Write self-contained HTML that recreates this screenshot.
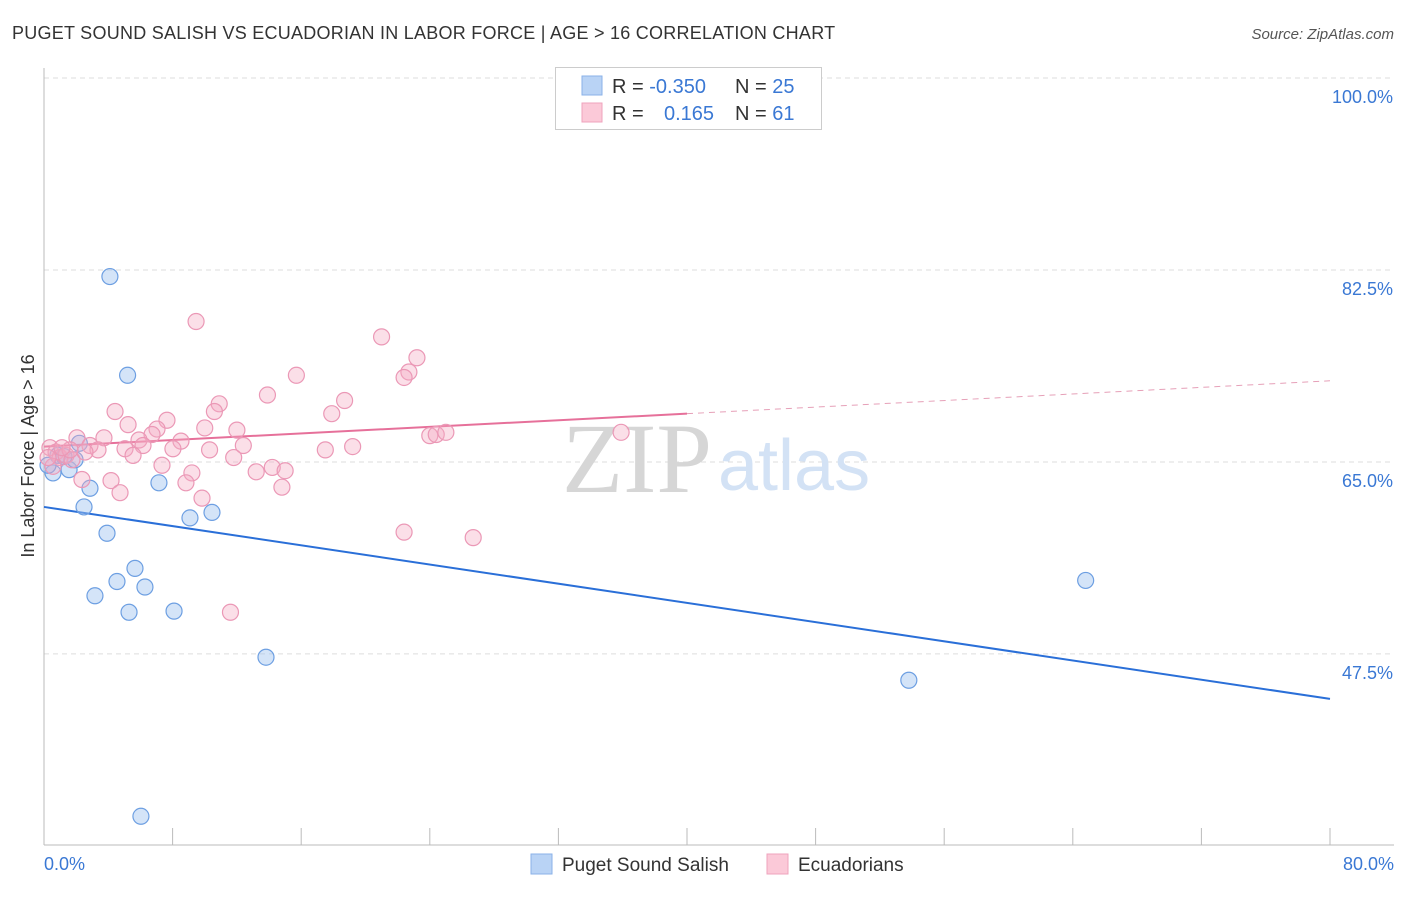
<!DOCTYPE html>
<html><head><meta charset="utf-8">
<style>
body{margin:0;background:#fff;font-family:"Liberation Sans",sans-serif;}
</style></head>
<body>
<svg id="chart" width="1406" height="892" viewBox="0 0 1406 892" xmlns="http://www.w3.org/2000/svg" font-family="Liberation Sans, sans-serif">
<text x="12" y="39" font-size="18" fill="#333" letter-spacing="0.25">PUGET SOUND SALISH VS ECUADORIAN IN LABOR FORCE | AGE &gt; 16 CORRELATION CHART</text>
<text x="1394" y="39" font-size="15" fill="#555" font-style="italic" text-anchor="end">Source: ZipAtlas.com</text>
<g id="grid"></g>
<text x="712" y="492" font-size="100" fill="#d6d6d6" style="font-family:'Liberation Serif',serif" text-anchor="end">ZIP</text>
<text x="718" y="490" font-size="72" fill="#d3e2f5">atlas</text>
<g id="axes"></g>
<g id="trends"></g>
<g id="points"></g>
<text x="34" y="456" font-size="18" fill="#333" text-anchor="middle" transform="rotate(-90 34 456)">In Labor Force | Age &gt; 16</text>
<g>
<rect x="555.5" y="67.5" width="266" height="62" fill="#fff" stroke="#ccc"/>
<rect x="582" y="76" width="20" height="19" fill="#b9d3f5" stroke="#8ab2e8"/>
<rect x="582" y="103" width="20" height="19" fill="#fbc9d8" stroke="#efa3bd"/>
<text x="612" y="93" font-size="20" fill="#333">R = <tspan fill="#3a78d4">-0.350</tspan></text>
<text x="735" y="93" font-size="20" fill="#333">N = <tspan fill="#3a78d4">25</tspan></text>
<text x="612" y="120" font-size="20" fill="#333">R = </text>
<text x="664" y="120" font-size="20" fill="#3a78d4">0.165</text>
<text x="735" y="120" font-size="20" fill="#333">N = <tspan fill="#3a78d4">61</tspan></text>
</g>
<g>
<rect x="531" y="854" width="21" height="20" fill="#b9d3f5" stroke="#8ab2e8"/>
<text x="562" y="871" font-size="19" fill="#333">Puget Sound Salish</text>
<rect x="767" y="854" width="21" height="20" fill="#fbc9d8" stroke="#efa3bd"/>
<text x="798" y="871" font-size="19" fill="#333">Ecuadorians</text>
</g>
</svg>
<script>
const yTicks=[100,82.5,65,47.5];
const yTickLabels=["100.0%","82.5%","65.0%","47.5%"];
const xLabels=["0.0%","80.0%"];
const blueX=[4.1,5.2,2.2,0.56,1.56,1.93,0.87,2.86,2.49,3.92,7.15,9.08,10.45,5.66,4.54,6.28,3.17,5.29,8.09,13.81,6.03,53.8,64.8,1.24,0.25];
const blueY=[81.9,72.9,66.7,64.0,64.3,65.2,65.6,62.6,60.9,58.5,63.1,59.9,60.4,55.3,54.1,53.6,52.8,51.3,51.4,47.2,32.7,45.1,54.2,65.5,64.7];
const pinkX=[9.46,21.0,23.2,22.7,22.4,15.7,13.9,18.7,10.9,10.6,17.9,4.42,7.65,5.23,7.03,6.72,10.0,12.0,8.52,5.91,6.16,3.73,2.05,2.86,3.36,5.04,5.54,8.02,10.3,12.4,11.8,17.5,19.2,24.0,24.4,25.0,35.9,7.34,9.2,13.2,14.2,15.0,14.8,8.83,4.17,4.73,9.83,2.36,22.4,26.7,11.6,0.37,0.75,1.0,1.37,1.74,0.56,2.55,1.62,1.12,0.25];
const pinkY=[77.8,76.4,74.5,73.2,72.7,72.9,71.1,70.6,70.3,69.6,69.4,69.6,68.8,68.4,68.0,67.5,68.1,67.9,66.9,67.0,66.5,67.2,67.2,66.5,66.1,66.2,65.6,66.2,66.1,66.5,65.4,66.1,66.4,67.4,67.5,67.7,67.7,64.7,64.0,64.1,64.5,64.2,62.7,63.1,63.3,62.2,61.7,63.4,58.6,58.1,51.3,66.3,65.9,65.4,65.6,65.2,64.6,65.9,66.1,66.3,65.4];
const blueTrend=[60.9,43.4];
const pinkTrend=[66.4,72.4];
const pinkSolidEnd=40;

const X0=44,X1=1330,Y100=78,PXPERPCT=10.97;
function sx(v){return X0+(X1-X0)*v/80;}
function sy(v){return Y100+(100-v)*PXPERPCT;}
const NS="http://www.w3.org/2000/svg";
function mk(tag,attrs,parent){const e=document.createElementNS(NS,tag);for(const k in attrs)e.setAttribute(k,attrs[k]);parent.appendChild(e);return e;}
const grid=document.getElementById('grid');
yTicks.forEach((t,i)=>{
  const l=mk('line',{x1:X0,x2:1394,y1:sy(t),y2:sy(t),stroke:'#ddd','stroke-dasharray':'5,4'},grid);
  
  
  const tx=mk('text',{x:1393,y:sy(t)+25,'font-size':18,fill:'#3a78d4','text-anchor':'end'},grid);
  tx.textContent=yTickLabels[i];
  
  
});
const axes=document.getElementById('axes');
const ya=mk('line',{x1:X0,x2:X0,y1:68,y2:845,stroke:'#bbb'},axes);


const xa=mk('line',{x1:X0,x2:1394,y1:845,y2:845,stroke:'#bbb'},axes);


for(let v=0;v<=80;v+=8){
  const t=mk('line',{x1:sx(v),x2:sx(v),y1:828,y2:845,stroke:'#bbb'},axes);
  
  
}
const xl0=mk('text',{x:44,y:870,'font-size':18,fill:'#3a78d4'},axes);
xl0.textContent=xLabels[0];


const xl1=mk('text',{x:1394,y:870,'font-size':18,fill:'#3a78d4','text-anchor':'end'},axes);
xl1.textContent=xLabels[1];



const pts=document.getElementById('points');
blueX.forEach((x,i)=>{
  const c=mk('circle',{cx:sx(x),cy:sy(blueY[i]),r:8,fill:'rgba(160,195,240,0.45)',stroke:'#6d9fe2','stroke-width':1.2},pts);
  
  
});
pinkX.forEach((x,i)=>{
  const c=mk('circle',{cx:sx(x),cy:sy(pinkY[i]),r:8,fill:'rgba(245,170,195,0.38)',stroke:'#eb98b6','stroke-width':1.2},pts);
  
  
});
const tr=document.getElementById('trends');
const bl=mk('line',{x1:sx(0),y1:sy(blueTrend[0]),x2:sx(80),y2:sy(blueTrend[1]),stroke:'#2a6fd8','stroke-width':2},tr);


const pm=pinkTrend[0]+(pinkTrend[1]-pinkTrend[0])*pinkSolidEnd/80;
const pl=mk('line',{x1:sx(0),y1:sy(pinkTrend[0]),x2:sx(pinkSolidEnd),y2:sy(pm),stroke:'#e6709a','stroke-width':2},tr);


const pd=mk('line',{x1:sx(pinkSolidEnd),y1:sy(pm),x2:sx(80),y2:sy(pinkTrend[1]),stroke:'#e6a0b8','stroke-width':1,'stroke-dasharray':'6,5'},tr);


</script>
</body></html>
